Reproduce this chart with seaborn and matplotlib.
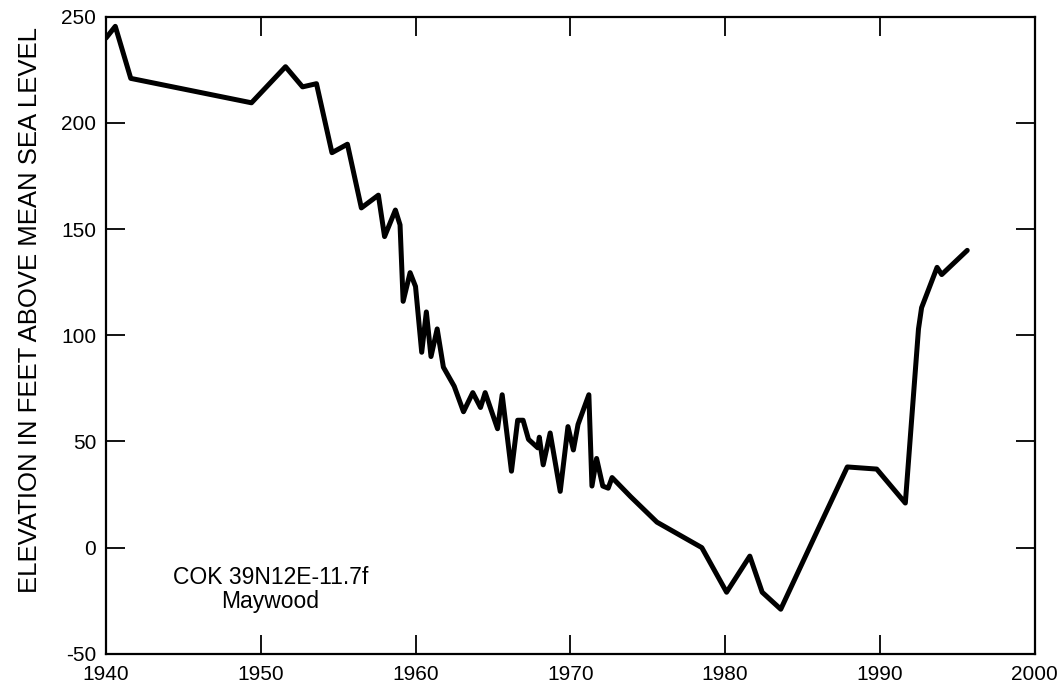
"""
Hydrograph for well COK 39N12E-11.7f (Maywood): water level elevation, 1940-1996.
"""

import matplotlib
matplotlib.use('Agg')
import matplotlib.pyplot as plt
import pandas as pd
import seaborn as sns

years = [1940.0, 1940.6, 1941.6, 1949.4, 1951.6, 1952.7, 1953.6, 1954.6, 1955.6,
         1956.5, 1957.6, 1958.0, 1958.7, 1959.0, 1959.2, 1959.65, 1960.0, 1960.4,
         1960.7, 1961.0, 1961.4, 1961.8, 1962.5, 1963.1, 1963.7, 1964.2, 1964.5,
         1965.3, 1965.6, 1966.2, 1966.6, 1966.95, 1967.3, 1967.9, 1968.0, 1968.25,
         1968.7, 1969.35, 1969.85, 1970.2, 1970.5, 1971.2, 1971.4, 1971.7, 1972.1,
         1972.45, 1972.7, 1973.9, 1975.6, 1978.5, 1980.1, 1981.6, 1982.4, 1983.6,
         1986.0, 1987.9, 1989.8, 1991.65, 1992.5, 1992.7, 1993.7, 1994.0, 1995.65]
levels = [240, 245.5, 221, 209.5, 226.5, 217, 218.5, 186, 190,
          160, 166, 146.5, 159, 152, 116, 129.5, 123, 92,
          111, 90, 103, 85, 76, 64, 73, 66, 73,
          56, 72, 36, 60, 60, 51, 47, 52, 39,
          54, 26.5, 57, 46, 58, 72, 29, 42, 29,
          28, 33, 24, 12, 0, -21, -4, -21, -29,
          8.5, 38, 37, 21, 103, 113, 132, 128.6, 140]

x_ticks = [1940, 1950, 1960, 1970, 1980, 1990, 2000]
y_ticks = [-50, 0, 50, 100, 150, 200, 250]
well_id = 'COK 39N12E-11.7f'
well_name = 'Maywood'
y_title = 'ELEVATION IN FEET ABOVE MEAN SEA LEVEL'


def main():
    sns.set_style('ticks')
    plt.rcParams['font.family'] = ['Liberation Sans', 'DejaVu Sans']
    plt.rcParams['axes.unicode_minus'] = False
    plt.rcParams['text.color'] = 'black'

    df = pd.DataFrame({'year': years, 'level': levels})

    fig = plt.figure(figsize=(10.6, 7), dpi=100)
    ax = fig.add_axes([0.100, 0.066, 0.876, 0.910])

    sns.lineplot(data=df, x='year', y='level', sort=False, color='black',
                 linewidth=3.6, ax=ax)

    ax.set_xlim(1940, 2000)
    ax.set_ylim(-50, 250)
    ax.set_xticks(x_ticks)
    ax.set_yticks(y_ticks)
    ax.set_xlabel('')
    ax.set_ylabel('')

    for side in ax.spines.values():
        side.set_linewidth(1.6)
        side.set_color('black')

    ax.tick_params(direction='in', top=True, right=True, length=14, width=1.3,
                   labelsize=15, colors='black', labelcolor='black')
    ax.tick_params(axis='x', pad=8)
    ax.tick_params(axis='y', pad=7)

    ax.text(0.177, 0.101, f'{well_id}\n{well_name}', transform=ax.transAxes,
            ha='center', va='center', fontsize=16.5, linespacing=1.05,
            color='black')

    fig.text(0.028, 0.557, y_title, rotation=90, ha='center', va='center',
             fontsize=18.5, color='black')

    fig.savefig('out.png', dpi=100, facecolor='white')
    plt.close(fig)


if __name__ == '__main__':
    main()
